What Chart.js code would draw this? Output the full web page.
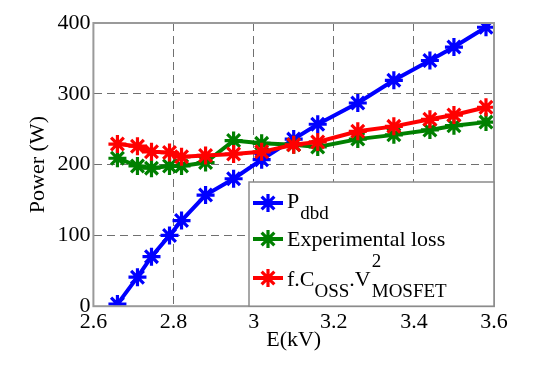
<!DOCTYPE html>
<html><head><meta charset="utf-8">
<script src="https://cdn.jsdelivr.net/npm/chart.js@4/dist/chart.umd.min.js"></script>
</head><body style="margin:0">
<canvas id="c" width="550" height="374"></canvas>
<script>
const fieldKV = [2.66, 2.71, 2.745, 2.79, 2.82, 2.88, 2.95, 3.02, 3.10, 3.16, 3.26, 3.35, 3.44, 3.50, 3.58];
const pDbd = [3, 41, 70, 100, 121, 157, 180, 207, 236, 257, 287, 319, 347, 366, 394];
const expLoss = [209, 198, 195, 198, 198, 203, 234, 230, 228, 225, 236, 242, 249, 255, 260];
const fCoss = [229, 226, 218, 217, 211, 213, 215, 218, 228, 232, 247, 254, 264, 270, 281];
const xTickVals = [2.6, 2.8, 3.0, 3.2, 3.4, 3.6];
const yTickVals = [0, 100, 200, 300, 400];
const legendLabels = ["P", "Experimental loss", "f.C"];
const seriesColors = ["#0000ff", "#008000", "#ff0000"];

const serifFam = 'Liberation Serif';

function mkPts(ys){ return fieldKV.map((x,i)=>({x:x, y:ys[i]})); }
function mkSet(label, ys, color){
  return {label:label, data:mkPts(ys), borderColor:color, backgroundColor:color,
    borderWidth:4, pointStyle:'star', pointRadius:9, pointBorderWidth:3.2};
}

const legendPlugin = { id:'customLegend', afterDraw(chart){
  const ctx = chart.ctx; const ca = chart.chartArea;
  ctx.save();
  ctx.setLineDash([]);
  ctx.strokeStyle = '#9a9a9a'; ctx.lineWidth = 2;
  ctx.strokeRect(ca.left, ca.top, ca.right-ca.left, ca.bottom-ca.top);
  const lx = 249, ly = 182;
  ctx.fillStyle = '#fff'; ctx.fillRect(lx, ly, ca.right-lx, ca.bottom-ly);
  ctx.strokeStyle = '#8a8a8a'; ctx.lineWidth = 1.5; ctx.strokeRect(lx, ly, ca.right-lx, ca.bottom-ly);
  [203, 239, 278].forEach((ry,i)=>{
    ctx.strokeStyle = seriesColors[i]; ctx.lineWidth = 4;
    ctx.beginPath(); ctx.moveTo(253, ry); ctx.lineTo(283, ry); ctx.stroke();
    ctx.lineWidth = 3.2; ctx.beginPath();
    for(let k=0;k<4;k++){ const a=k*Math.PI/4;
      ctx.moveTo(268+9*Math.cos(a), ry+9*Math.sin(a)); ctx.lineTo(268-9*Math.cos(a), ry-9*Math.sin(a)); }
    ctx.stroke();
  });
  ctx.fillStyle = '#000';
  ctx.font = '22px "Liberation Serif"';
  ctx.fillText(legendLabels[0], 287, 208);
  const w = ctx.measureText(legendLabels[0]).width;
  ctx.font = '19px "Liberation Serif"';
  ctx.fillText('dbd', 287 + w + 1, 219);
  ctx.font = '22px "Liberation Serif"';
  ctx.fillText(legendLabels[1], 287, 246);
  ctx.fillText(legendLabels[2], 287, 286);
  let x = 287 + ctx.measureText(legendLabels[2]).width;
  ctx.font = '19px "Liberation Serif"';
  ctx.fillText('OSS', x, 297); x += ctx.measureText('OSS').width;
  ctx.font = '22px "Liberation Serif"';
  ctx.fillText('.V', x, 286); x += ctx.measureText('.V').width;
  ctx.font = '19px "Liberation Serif"';
  ctx.fillText('2', x + 1, 267);
  ctx.fillText('MOSFET', x + 1, 297);
  ctx.restore();
}};

new Chart(document.getElementById('c'), {
  type:'line',
  data:{ datasets:[
    mkSet('f.Coss.V2 MOSFET', fCoss, seriesColors[2]),
    mkSet('Experimental loss', expLoss, seriesColors[1]),
    mkSet('Pdbd', pDbd, seriesColors[0])
  ]},
  options:{
    responsive:false, animation:false,
    layout:{padding:{left:0, top:23, right:56, bottom:0}},
    plugins:{legend:{display:false}},
    scales:{
      x:{ type:'linear', min:xTickVals[0], max:xTickVals[xTickVals.length-1],
        ticks:{ stepSize:0.2, color:'#000', font:{family:serifFam, size:22},
          callback:(v)=> String(+(+v).toFixed(1)) },
        grid:{ color:'#707070', drawTicks:false },
        border:{ dash:[8,5] },
        title:{ display:true, text:'E(kV)', color:'#000', font:{family:serifFam, size:22}, padding:{top:-12, bottom:21} } },
      y:{ type:'linear', min:yTickVals[0], max:yTickVals[yTickVals.length-1],
        ticks:{ stepSize:100, color:'#000', font:{family:serifFam, size:22} },
        grid:{ color:'#707070', drawTicks:false },
        border:{ dash:[8,5] },
        title:{ display:true, text:'Power (W)', color:'#000', font:{family:serifFam, size:22}, padding:{top:25, bottom:3} } }
    }
  },
  plugins:[legendPlugin]
});
</script></body></html>
